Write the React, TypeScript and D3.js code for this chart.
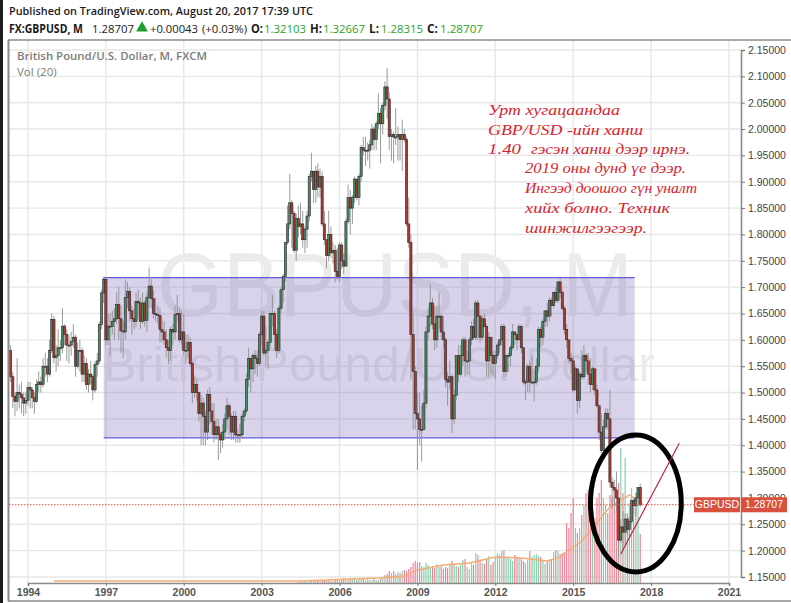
import React, { useEffect, useRef } from 'react';
import * as d3 from 'd3';

// Monthly bars start in May 1993 and run to August 2017
const firstMonth = new Date(Date.UTC(1993, 4, 1));
const firstOpen = 1.58;

const closes: number[] = [
  /*1993*/ 1.53, 1.493, 1.483, 1.5, 1.497, 1.49, 1.48, 1.485,
  /*1994*/ 1.51, 1.505, 1.49, 1.483, 1.515, 1.52, 1.515, 1.55, 1.55, 1.535, 1.58, 1.639,
  /*1995*/ 1.566, 1.57, 1.585, 1.585, 1.626, 1.61, 1.59, 1.59, 1.597, 1.605, 1.55, 1.58,
  /*1996*/ 1.58, 1.535, 1.555, 1.515, 1.535, 1.53, 1.505, 1.553, 1.56, 1.629, 1.689, 1.715,
  /*1997*/ 1.6, 1.626, 1.625, 1.635, 1.64, 1.667, 1.64, 1.617, 1.615, 1.68, 1.692, 1.655,
  /*1998*/ 1.64, 1.635, 1.673, 1.67, 1.635, 1.67, 1.637, 1.68, 1.702, 1.678, 1.65, 1.648,
  /*1999*/ 1.646, 1.62, 1.615, 1.6, 1.585, 1.58, 1.62, 1.615, 1.648, 1.65, 1.6, 1.615,
  /*2000*/ 1.58, 1.58, 1.595, 1.555, 1.5, 1.515, 1.5, 1.46, 1.48, 1.455, 1.425, 1.496,
  /*2001*/ 1.465, 1.445, 1.42, 1.435, 1.42, 1.41, 1.425, 1.45, 1.475, 1.455, 1.425, 1.455,
  /*2002*/ 1.42, 1.42, 1.42, 1.455, 1.465, 1.525, 1.565, 1.545, 1.57, 1.565, 1.555, 1.61,
  /*2003*/ 1.645, 1.575, 1.58, 1.595, 1.65, 1.65, 1.61, 1.58, 1.66, 1.695, 1.72, 1.785,
  /*2004*/ 1.82, 1.86, 1.84, 1.77, 1.83, 1.815, 1.82, 1.79, 1.81, 1.835, 1.91, 1.92,
  /*2005*/ 1.885, 1.92, 1.89, 1.91, 1.82, 1.79, 1.76, 1.8, 1.765, 1.77, 1.73, 1.72,
  /*2006*/ 1.78, 1.75, 1.74, 1.825, 1.87, 1.85, 1.87, 1.905, 1.87, 1.91, 1.965, 1.96,
  /*2007*/ 1.96, 1.96, 1.97, 2.0, 1.98, 2.01, 2.03, 2.01, 2.045, 2.08, 2.057, 1.986,
  /*2008*/ 1.99, 1.985, 1.985, 1.99, 1.98, 1.99, 1.98, 1.82, 1.785, 1.61, 1.54, 1.46,
  /*2009*/ 1.45, 1.43, 1.43, 1.48, 1.615, 1.645, 1.67, 1.63, 1.6, 1.645, 1.645, 1.615,
  /*2010*/ 1.6, 1.525, 1.52, 1.53, 1.45, 1.495, 1.57, 1.535, 1.57, 1.6, 1.56, 1.56,
  /*2011*/ 1.6, 1.625, 1.605, 1.67, 1.645, 1.605, 1.64, 1.625, 1.56, 1.605, 1.57, 1.555,
  /*2012*/ 1.57, 1.59, 1.6, 1.625, 1.54, 1.57, 1.57, 1.585, 1.615, 1.61, 1.6, 1.625,
  /*2013*/ 1.585, 1.52, 1.52, 1.55, 1.52, 1.52, 1.52, 1.55, 1.62, 1.605, 1.635, 1.655,
  /*2014*/ 1.645, 1.675, 1.665, 1.69, 1.675, 1.71, 1.69, 1.66, 1.62, 1.6, 1.565, 1.56,
  /*2015*/ 1.505, 1.545, 1.485, 1.535, 1.53, 1.57, 1.56, 1.535, 1.515, 1.545, 1.505, 1.475,
  /*2016*/ 1.425, 1.39, 1.435, 1.46, 1.45, 1.33, 1.32, 1.315, 1.3, 1.22, 1.245, 1.235,
  /*2017*/ 1.26, 1.24, 1.255, 1.295, 1.285, 1.3, 1.32, 1.287,
];

const highs: number[] = [
  /*1993*/ 1.59, 1.54, 1.5, 1.565, 1.515, 1.52, 1.5, 1.5,
  /*1994*/ 1.52, 1.52, 1.51, 1.5, 1.525, 1.54, 1.53, 1.565, 1.575, 1.565, 1.6, 1.65,
  /*1995*/ 1.645, 1.59, 1.62, 1.6, 1.66, 1.63, 1.62, 1.61, 1.615, 1.63, 1.61, 1.595,
  /*1996*/ 1.6, 1.585, 1.57, 1.565, 1.545, 1.56, 1.535, 1.56, 1.575, 1.635, 1.695, 1.72,
  /*1997*/ 1.72, 1.65, 1.65, 1.655, 1.66, 1.69, 1.7, 1.665, 1.635, 1.715, 1.71, 1.7,
  /*1998*/ 1.665, 1.66, 1.69, 1.695, 1.68, 1.69, 1.675, 1.69, 1.737, 1.715, 1.695, 1.68,
  /*1999*/ 1.665, 1.66, 1.64, 1.635, 1.62, 1.6, 1.625, 1.63, 1.665, 1.685, 1.66, 1.655,
  /*2000*/ 1.65, 1.61, 1.61, 1.605, 1.56, 1.53, 1.525, 1.5, 1.495, 1.49, 1.465, 1.505,
  /*2001*/ 1.51, 1.48, 1.48, 1.45, 1.45, 1.425, 1.44, 1.46, 1.49, 1.48, 1.46, 1.465,
  /*2002*/ 1.465, 1.43, 1.44, 1.46, 1.47, 1.535, 1.585, 1.56, 1.575, 1.58, 1.58, 1.615,
  /*2003*/ 1.655, 1.655, 1.625, 1.6, 1.655, 1.685, 1.655, 1.62, 1.665, 1.7, 1.725, 1.785,
  /*2004*/ 1.855, 1.915, 1.865, 1.845, 1.84, 1.855, 1.86, 1.845, 1.815, 1.845, 1.915, 1.955,
  /*2005*/ 1.92, 1.93, 1.935, 1.925, 1.92, 1.845, 1.79, 1.845, 1.815, 1.785, 1.78, 1.775,
  /*2006*/ 1.785, 1.785, 1.765, 1.83, 1.895, 1.885, 1.875, 1.91, 1.905, 1.915, 1.97, 1.985,
  /*2007*/ 1.985, 1.975, 1.98, 2.01, 2.005, 2.015, 2.068, 2.04, 2.05, 2.09, 2.116, 2.07,
  /*2008*/ 2.0, 1.995, 2.04, 2.005, 1.985, 2.018, 2.0, 1.985, 1.87, 1.8, 1.65, 1.55,
  /*2009*/ 1.5, 1.5, 1.475, 1.505, 1.625, 1.66, 1.705, 1.68, 1.665, 1.665, 1.69, 1.65,
  /*2010*/ 1.645, 1.605, 1.54, 1.56, 1.535, 1.505, 1.57, 1.59, 1.59, 1.605, 1.605, 1.58,
  /*2011*/ 1.605, 1.635, 1.64, 1.675, 1.675, 1.65, 1.645, 1.65, 1.63, 1.615, 1.605, 1.58,
  /*2012*/ 1.58, 1.595, 1.6, 1.63, 1.63, 1.57, 1.575, 1.59, 1.63, 1.615, 1.61, 1.63,
  /*2013*/ 1.63, 1.585, 1.525, 1.555, 1.56, 1.57, 1.545, 1.565, 1.625, 1.625, 1.64, 1.655,
  /*2014*/ 1.67, 1.68, 1.68, 1.69, 1.7, 1.71, 1.72, 1.695, 1.665, 1.63, 1.6, 1.575,
  /*2015*/ 1.57, 1.55, 1.545, 1.54, 1.58, 1.59, 1.575, 1.575, 1.565, 1.55, 1.54, 1.515,
  /*2016*/ 1.47, 1.46, 1.45, 1.47, 1.47, 1.505, 1.34, 1.335, 1.35, 1.3, 1.26, 1.275,
  /*2017*/ 1.27, 1.265, 1.265, 1.295, 1.3, 1.31, 1.32, 1.327,
];

const lows: number[] = [
  /*1993*/ 1.52, 1.47, 1.455, 1.465, 1.47, 1.46, 1.455, 1.46,
  /*1994*/ 1.475, 1.47, 1.47, 1.46, 1.48, 1.5, 1.5, 1.51, 1.53, 1.52, 1.53, 1.575,
  /*1995*/ 1.555, 1.54, 1.55, 1.56, 1.575, 1.59, 1.56, 1.555, 1.57, 1.585, 1.53, 1.545,
  /*1996*/ 1.54, 1.52, 1.52, 1.505, 1.5, 1.515, 1.485, 1.5, 1.53, 1.555, 1.62, 1.67,
  /*1997*/ 1.59, 1.59, 1.57, 1.61, 1.6, 1.63, 1.6, 1.575, 1.565, 1.6, 1.66, 1.635,
  /*1998*/ 1.61, 1.62, 1.625, 1.64, 1.62, 1.63, 1.625, 1.615, 1.66, 1.66, 1.64, 1.635,
  /*1999*/ 1.63, 1.595, 1.595, 1.59, 1.57, 1.555, 1.56, 1.59, 1.6, 1.635, 1.595, 1.59,
  /*2000*/ 1.57, 1.555, 1.565, 1.55, 1.48, 1.49, 1.485, 1.445, 1.4, 1.4, 1.4, 1.41,
  /*2001*/ 1.44, 1.42, 1.405, 1.41, 1.372, 1.385, 1.395, 1.41, 1.43, 1.42, 1.41, 1.41,
  /*2002*/ 1.405, 1.405, 1.405, 1.415, 1.445, 1.46, 1.51, 1.5, 1.52, 1.535, 1.53, 1.55,
  /*2003*/ 1.59, 1.57, 1.55, 1.545, 1.585, 1.625, 1.58, 1.565, 1.575, 1.65, 1.67, 1.71,
  /*2004*/ 1.78, 1.81, 1.775, 1.765, 1.75, 1.795, 1.8, 1.775, 1.765, 1.775, 1.825, 1.9,
  /*2005*/ 1.86, 1.86, 1.87, 1.87, 1.815, 1.78, 1.735, 1.75, 1.755, 1.745, 1.709, 1.715,
  /*2006*/ 1.71, 1.735, 1.725, 1.74, 1.82, 1.8, 1.82, 1.86, 1.865, 1.855, 1.9, 1.95,
  /*2007*/ 1.93, 1.94, 1.925, 1.96, 1.96, 1.96, 2.0, 1.935, 1.99, 2.035, 2.02, 1.96,
  /*2008*/ 1.94, 1.935, 1.97, 1.94, 1.94, 1.92, 1.975, 1.815, 1.775, 1.525, 1.43, 1.43,
  /*2009*/ 1.353, 1.4, 1.369, 1.43, 1.47, 1.6, 1.625, 1.62, 1.58, 1.585, 1.62, 1.6,
  /*2010*/ 1.585, 1.51, 1.475, 1.505, 1.423, 1.44, 1.485, 1.52, 1.53, 1.55, 1.53, 1.535,
  /*2011*/ 1.535, 1.59, 1.6, 1.6, 1.6, 1.595, 1.6, 1.625, 1.53, 1.53, 1.535, 1.53,
  /*2012*/ 1.525, 1.565, 1.575, 1.59, 1.53, 1.53, 1.54, 1.55, 1.58, 1.59, 1.58, 1.6,
  /*2013*/ 1.575, 1.515, 1.485, 1.5, 1.5, 1.515, 1.483, 1.515, 1.54, 1.585, 1.59, 1.625,
  /*2014*/ 1.625, 1.635, 1.645, 1.66, 1.67, 1.67, 1.68, 1.655, 1.61, 1.585, 1.555, 1.535,
  /*2015*/ 1.5, 1.505, 1.46, 1.47, 1.525, 1.525, 1.54, 1.515, 1.5, 1.505, 1.495, 1.47,
  /*2016*/ 1.41, 1.385, 1.39, 1.43, 1.43, 1.32, 1.28, 1.285, 1.275, 1.185, 1.215, 1.2,
  /*2017*/ 1.21, 1.23, 1.225, 1.25, 1.27, 1.265, 1.285, 1.283,
];

// Volume only exists from June 2004
const volumeStart = new Date(Date.UTC(2004, 5, 1));
const volumes: number[] = [
  /*2004*/ 1, 1, 1, 2, 1, 2, 2,
  /*2005*/ 2, 2, 2, 3, 2, 3, 2, 3, 2, 2, 3, 3,
  /*2006*/ 3, 4, 5, 3, 4, 5, 4, 5, 3, 4, 5, 4,
  /*2007*/ 3, 4, 3, 3, 4, 3, 3, 4, 5, 8, 9, 12,
  /*2008*/ 10, 12, 9, 11, 10, 12, 13, 12, 14, 16, 20, 22,
  /*2009*/ 20, 21, 17, 16, 20, 18, 15, 17, 15, 19, 16, 17,
  /*2010*/ 14, 16, 15, 18, 22, 19, 17, 16, 18, 23, 24, 16,
  /*2011*/ 14, 20, 18, 30, 28, 22, 20, 19, 24, 27, 18, 21,
  /*2012*/ 26, 30, 28, 32, 33, 26, 27, 24, 22, 28, 26, 25,
  /*2013*/ 24, 22, 20, 23, 32, 26, 28, 29, 27, 26, 23, 19,
  /*2014*/ 22, 24, 24, 31, 33, 32, 29, 30, 31, 60, 55, 70,
  /*2015*/ 85, 55, 50, 55, 68, 78, 90, 93, 70, 75, 65, 85,
  /*2016*/ 90, 103, 85, 78, 70, 88, 86, 93, 95, 100, 135, 90,
  /*2017*/ 125, 70, 80, 95, 75, 90, 80, 49,
];

const maDates: [number, number][] = [
  [1995, 0], [2004, 5], [2005, 6], [2006, 0], [2007, 6], [2008, 6], [2009, 0], [2010, 0], [2011, 0], [2012, 0],
  [2013, 0], [2014, 0], [2014, 6], [2015, 4], [2015, 10], [2016, 5], [2016, 10], [2017, 2], [2017, 5], [2017, 8],
];
const maValues: number[] = [2, 2, 3, 3.5, 5, 7, 13, 18, 20, 26, 25, 22, 26, 42, 58, 76, 83, 88, 84, 79];

const priceTicks = [1.15, 1.2, 1.25, 1.3, 1.35, 1.4, 1.45, 1.5, 1.55, 1.6, 1.65, 1.7, 1.75, 1.8, 1.85, 1.9, 1.95, 2.0, 2.05, 2.1, 2.15];
const yearTicks = [1994, 1997, 2000, 2003, 2006, 2009, 2012, 2015, 2018, 2021];

const lastPrice = 1.28707;
const zoneTop = 1.718;
const zoneBottom = 1.414;

const noteLines: [string, number, number, number][] = [
  ['Урт хугацаандаа', 488, 115, 132],
  ['GBP/USD -ийн ханш', 488, 135, 155],
  ['1.40', 488, 154, 33],
  ['гэсэн ханш дээр ирнэ.', 531, 154, 159],
  ['2019 оны дунд үе дээр.', 525, 173, 161],
  ['Ингээд доошоо гүн уналт', 525, 193, 172],
  ['хийх болно. Техник', 525, 213, 145],
  ['шинжилгээгээр.', 525, 233, 122],
];

const utc = (y: number, m: number) => new Date(Date.UTC(y, m, 1));
const sans = "'Liberation Sans', Arial, sans-serif";
const header = "'Open Sans', 'Noto Sans', sans-serif";

const App: React.FC = () => {
  const svgRef = useRef<SVGSVGElement | null>(null);

  useEffect(() => {
    const svg = d3.select(svgRef.current);
    svg.selectAll('*').remove();

    const x = d3.scaleUtc().domain([utc(1994, 0), utc(2021, 0)]).range([28, 729]);
    const y = d3.scaleLinear().domain([1.15, 2.15]).range([577, 50]);
    const vol = d3.scaleLinear().domain([0, 135]).range([583, 448]);

    const months = d3.utcMonth.range(firstMonth, utc(2017, 8));
    const candles = months.map((date, i) => ({
      date,
      open: i === 0 ? firstOpen : closes[i - 1],
      close: closes[i],
      high: highs[i],
      low: lows[i],
    }));
    const upAt = new Map(candles.map(c => [c.date.getTime(), c.close >= c.open]));

    svg.append('rect').attr('width', 791).attr('height', 603).attr('fill', '#fff');
    svg.append('rect').attr('width', 3).attr('height', 603).attr('fill', '#1c1c1c');

    const clip = svg.append('defs').append('clipPath').attr('id', 'pane');
    clip.append('rect').attr('x', 9).attr('y', 41).attr('width', 732).attr('height', 542);

    // grid
    const grid = svg.append('g').attr('stroke', '#e7e7e7').attr('stroke-width', 1.4);
    priceTicks.forEach(p => {
      grid.append('line').attr('x1', 9).attr('x2', 741).attr('y1', y(p)).attr('y2', y(p));
    });
    yearTicks.forEach(t => {
      grid.append('line').attr('x1', x(utc(t, 0))).attr('x2', x(utc(t, 0))).attr('y1', 41).attr('y2', 583);
    });

    // watermark
    const mark = svg.append('g').attr('font-family', sans).attr('fill', '#ebebeb');
    mark.append('text').attr('x', 395).attr('y', 316).attr('text-anchor', 'middle')
      .attr('font-size', 91).attr('textLength', 476).attr('lengthAdjust', 'spacingAndGlyphs').text('GBPUSD, M');
    mark.append('text').attr('x', 379).attr('y', 381).attr('text-anchor', 'middle')
      .attr('font-size', 48).attr('textLength', 552).attr('lengthAdjust', 'spacingAndGlyphs').text('British Pound/U.S. Dollar');

    // purple zone
    const zoneLeft = x(utc(1996, 11));
    const zoneRight = x(utc(2017, 4)) + 1;
    svg.append('rect')
      .attr('x', zoneLeft).attr('y', y(zoneTop))
      .attr('width', zoneRight - zoneLeft).attr('height', y(zoneBottom) - y(zoneTop))
      .attr('fill', '#6a55ac').attr('opacity', 0.26);
    [zoneTop, zoneBottom].forEach(p => {
      svg.append('line').attr('x1', zoneLeft).attr('x2', zoneRight).attr('y1', y(p)).attr('y2', y(p))
        .attr('stroke', '#5f5ce0').attr('stroke-width', 1.3);
    });

    const pane = svg.append('g').attr('clip-path', 'url(#pane)');

    // volume pane
    const volMonths = d3.utcMonth.range(volumeStart, utc(2017, 8));
    pane.append('g').selectAll('rect')
      .data(volMonths)
      .enter()
      .append('rect')
      .attr('x', d => x(d) - 0.6)
      .attr('width', 1.2)
      .attr('y', (_d, i) => vol(volumes[i]))
      .attr('height', (_d, i) => 583 - vol(volumes[i]))
      .attr('fill', d => (upAt.get(d.getTime()) ? '#86d0ab' : '#ec8496'));

    const maLine = d3.line<[number, number]>()
      .x(d => x(utc(d[0], d[1])))
      .y((_d, i) => vol(maValues[i]));
    pane.append('path').datum(maDates).attr('d', maLine)
      .attr('fill', 'none').attr('stroke', '#f4ab73').attr('stroke-width', 1.3);

    // last price dotted line
    svg.append('line').attr('x1', 9).attr('x2', 741).attr('y1', y(lastPrice)).attr('y2', y(lastPrice))
      .attr('stroke', '#d9503f').attr('stroke-width', 1).attr('stroke-dasharray', '1.5 1.5');

    // candles
    const bars = pane.append('g').selectAll('g').data(candles).enter().append('g');
    bars.append('line')
      .attr('x1', d => x(d.date)).attr('x2', d => x(d.date))
      .attr('y1', d => y(d.high)).attr('y2', d => y(d.low))
      .attr('stroke', '#8f8f8f').attr('stroke-width', 0.9);
    bars.append('rect')
      .attr('x', d => x(d.date) - 1.1)
      .attr('width', 2.2)
      .attr('y', d => y(Math.max(d.open, d.close)))
      .attr('height', d => Math.max(1, Math.abs(y(d.open) - y(d.close))))
      .attr('fill', d => (d.close >= d.open ? '#3f8d68' : '#a93a2b'))
      .attr('stroke', '#33282a').attr('stroke-width', 0.6);

    // frame
    const frame = svg.append('g').attr('stroke', '#8a8a8a').attr('fill', 'none');
    frame.append('line').attr('x1', 8).attr('x2', 791).attr('y1', 40).attr('y2', 40).attr('stroke-width', 1.4);
    frame.append('line').attr('x1', 8.5).attr('x2', 8.5).attr('y1', 40).attr('y2', 601).attr('stroke-width', 2);
    frame.append('line').attr('x1', 8).attr('x2', 791).attr('y1', 601).attr('y2', 601).attr('stroke-width', 1.4);

    // axes
    const yAxis = svg.append('g')
      .attr('transform', 'translate(741,0)')
      .call(d3.axisRight(y).tickValues(priceTicks).tickFormat(d3.format('.5f') as any).tickSize(4));
    yAxis.select('.domain').attr('stroke', '#8a8a8a').attr('stroke-width', 1.6);
    yAxis.selectAll('.tick line').attr('stroke', '#777');
    yAxis.selectAll('text').attr('font-family', sans).attr('font-size', 10.5).attr('fill', '#444');

    const xAxis = svg.append('g')
      .attr('transform', 'translate(0,583)')
      .call(d3.axisBottom(x).tickValues(yearTicks.map(t => utc(t, 0))).tickFormat(d3.utcFormat('%Y') as any).tickSize(3));
    xAxis.select('.domain').attr('stroke', '#8a8a8a').attr('stroke-width', 1.6);
    xAxis.selectAll('.tick line').attr('stroke', '#777');
    xAxis.selectAll('text').attr('font-family', sans).attr('font-size', 10.5).attr('font-weight', 'bold').attr('fill', '#555');

    // price label
    const labelY = y(lastPrice) - 7.5;
    svg.append('rect').attr('x', 694).attr('y', labelY).attr('width', 46).attr('height', 15).attr('fill', '#d9503f');
    svg.append('rect').attr('x', 741).attr('y', labelY).attr('width', 46).attr('height', 15).attr('fill', '#d9503f');
    svg.append('text').attr('x', 717).attr('y', labelY + 11).attr('text-anchor', 'middle')
      .attr('font-family', sans).attr('font-size', 10.5).attr('fill', '#fff').text('GBPUSD');
    svg.append('text').attr('x', 764).attr('y', labelY + 11).attr('text-anchor', 'middle')
      .attr('font-family', sans).attr('font-size', 10.5).attr('fill', '#fff').text(d3.format('.5f')(lastPrice));

    // drawn annotations
    const ellipseLeft = x(utc(2015, 8));
    const ellipseRight = x(utc(2019, 1)) + 2;
    svg.append('ellipse')
      .attr('cx', (ellipseLeft + ellipseRight) / 2)
      .attr('cy', (y(1.4195) + y(1.1595)) / 2)
      .attr('rx', (ellipseRight - ellipseLeft) / 2)
      .attr('ry', (y(1.1595) - y(1.4195)) / 2)
      .attr('fill', 'none').attr('stroke', '#000').attr('stroke-width', 5);
    svg.append('line')
      .attr('x1', x(utc(2016, 10))).attr('y1', y(1.1936))
      .attr('x2', x(utc(2019, 1))).attr('y2', y(1.404))
      .attr('stroke', '#c2163c').attr('stroke-width', 1.1);

    // handwritten note
    const note = svg.append('g')
      .attr('font-family', "'Liberation Serif', serif").attr('font-style', 'italic')
      .attr('font-size', 15).attr('fill', '#d9232b');
    noteLines.forEach(([t, nx, ny, w]) => {
      note.append('text').attr('x', nx).attr('y', ny)
        .attr('textLength', w).attr('lengthAdjust', 'spacingAndGlyphs').text(t);
    });

    // pane titles
    const titles = svg.append('g').attr('font-family', header).attr('fill', '#7c7c7c').attr('font-size', 11.5);
    titles.append('text').attr('x', 17).attr('y', 60).attr('font-weight', 600)
      .attr('textLength', 190).attr('lengthAdjust', 'spacingAndGlyphs').text('British Pound/U.S. Dollar, M, FXCM');
    titles.append('text').attr('x', 17).attr('y', 76).text('Vol (20)');

    // header lines
    const head = svg.append('g').attr('font-family', header).attr('font-size', 11.5).attr('fill', '#1a1a1a');
    head.append('text').attr('x', 9).attr('y', 15).attr('font-weight', 600)
      .attr('textLength', 304).attr('lengthAdjust', 'spacingAndGlyphs')
      .text('Published on TradingView.com, August 20, 2017 17:39 UTC');
    const headerBits: [string, number, number, string, number][] = [
      ['FX:GBPUSD, M', 9, 74, '#1a1a1a', 700],
      ['1.28707', 92, 42, '#1a1a1a', 400],
      ['+0.00043', 150, 48, '#1a1a1a', 400],
      ['(+0.03%)', 202, 45, '#1a1a1a', 400],
      ['O:', 251, 12, '#1a1a1a', 700],
      ['1.32103', 264, 42, '#27a327', 400],
      ['H:', 310, 12, '#1a1a1a', 700],
      ['1.32667', 323, 42, '#27a327', 400],
      ['L:', 369, 10, '#1a1a1a', 700],
      ['1.28315', 381, 42, '#27a327', 400],
      ['C:', 427, 11, '#1a1a1a', 700],
      ['1.28707', 440, 43, '#27a327', 400],
    ];
    headerBits.forEach(([t, hx, w, fill, weight]) => {
      head.append('text').attr('x', hx).attr('y', 33).attr('fill', fill).attr('font-weight', weight)
        .attr('textLength', w).attr('lengthAdjust', 'spacingAndGlyphs').text(t);
    });
    head.append('path').attr('d', d3.symbol(d3.symbolTriangle, 60)()).attr('transform', 'translate(142,28)').attr('fill', '#1e9e2e');
  }, []);

  return <svg ref={svgRef} width={791} height={603} style={{ position: 'absolute', left: 0, top: 0 }} />;
};

export default App;
